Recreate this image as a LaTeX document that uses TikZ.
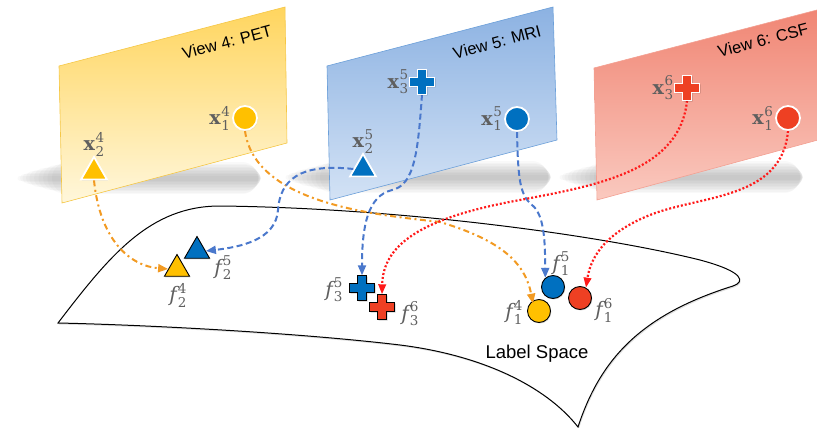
\documentclass[tikz,border=0pt]{standalone}
\usepackage{fontspec}
\setsansfont{Liberation Sans}
\newfontfamily\labfont{DejaVu Serif}
\usetikzlibrary{arrows.meta,shapes.geometric,positioning,shadows}
\definecolor{yel}{HTML}{FFC000}
\definecolor{blu}{HTML}{0070C0}
\definecolor{rd}{HTML}{EE4023}
\definecolor{orl}{HTML}{F29A22}
\definecolor{bll}{HTML}{4A78CC}
\definecolor{rdl}{HTML}{FF1A1A}
\definecolor{lblc}{HTML}{5F5F5F}
\definecolor{ytop}{HTML}{FFD55E}
\definecolor{ybot}{HTML}{FFF7DC}
\definecolor{yedge}{HTML}{F5C746}
\definecolor{btop}{HTML}{8CB2E2}
\definecolor{bbot}{HTML}{D3E2F5}
\definecolor{bedge}{HTML}{6B9FD9}
\definecolor{rtop}{HTML}{F08472}
\definecolor{rbot}{HTML}{FAC9BF}
\definecolor{redge}{HTML}{F3A092}
\newcommand{\supsz}{\fontsize{13.5}{14}\selectfont}
\newcommand{\lab}[3]{#1\kern0.6pt\rlap{\raisebox{8.5pt}{\supsz #3}}\raisebox{-5.5pt}{\supsz #2}}
\newcommand{\xl}[2]{\lab{{\fontsize{19}{22}\selectfont\bfseries x}}{#1}{#2}}
\newcommand{\fl}[2]{\lab{{\fontsize{20}{22}\selectfont\itshape f}\kern0.5pt}{#1}{#2}}
\newcommand{\plusshape}[3]{%
  \path[fill=#2, draw=#3, line width=1.1pt, line join=miter]
    ([shift={(-4.5,-12.5)}]#1.center) -- ([shift={(4.5,-12.5)}]#1.center)
    -- ([shift={(4.5,-4.5)}]#1.center) -- ([shift={(12.5,-4.5)}]#1.center)
    -- ([shift={(12.5,4.5)}]#1.center) -- ([shift={(4.5,4.5)}]#1.center)
    -- ([shift={(4.5,12.5)}]#1.center) -- ([shift={(-4.5,12.5)}]#1.center)
    -- ([shift={(-4.5,4.5)}]#1.center) -- ([shift={(-12.5,4.5)}]#1.center)
    -- ([shift={(-12.5,-4.5)}]#1.center) -- ([shift={(-4.5,-4.5)}]#1.center)
    -- cycle;}
\newcommand{\plusshadow}[1]{%
  \path[fill=black, opacity=0.18]
    ([shift={(-3.5,-11.5)}]#1.center) -- ([shift={(5.5,-11.5)}]#1.center)
    -- ([shift={(5.5,-3.5)}]#1.center) -- ([shift={(13.5,-3.5)}]#1.center)
    -- ([shift={(13.5,5.5)}]#1.center) -- ([shift={(5.5,5.5)}]#1.center)
    -- ([shift={(5.5,13.5)}]#1.center) -- ([shift={(-3.5,13.5)}]#1.center)
    -- ([shift={(-3.5,5.5)}]#1.center) -- ([shift={(-11.5,5.5)}]#1.center)
    -- ([shift={(-11.5,-3.5)}]#1.center) -- ([shift={(-3.5,-3.5)}]#1.center)
    -- cycle;}
% soft shadow band: left x, right x, y
\newcommand{\shadowband}[3]{%
  \foreach \w/\s in {32/48,29/42,26/36,23/30,20/24,17/18,14/13,11/8,8/4,5/0}{
    \draw[black, opacity=0.024, line width=\w pt, line cap=round]
      ({#1+\s},#3) -- ({#2-\s/3},#3);}}
\begin{document}
\begin{tikzpicture}[x=1pt,y=-1pt,
  lbl/.style={text=lblc, font=\labfont, inner sep=1pt},
  ttl/.style={font=\sffamily\fontsize{16.5}{19}\selectfont, rotate=15, inner sep=0pt},
  pm/.style={draw=white, line width=1.8pt, inner sep=0pt, drop shadow={opacity=0.22, shadow xshift=0.8pt, shadow yshift=-1pt}},
  sm/.style={draw=black, line width=0.9pt, inner sep=0pt, drop shadow={opacity=0.3, shadow xshift=0.8pt, shadow yshift=-1pt}},
  circ/.style={circle, minimum size=24pt},
  tri/.style={regular polygon, regular polygon sides=3, minimum size=30pt},
  pls/.style={rectangle, minimum size=25pt, inner sep=0pt},
  odash/.style={orl, line width=2pt, dash pattern=on 6pt off 3.5pt on 2pt off 3.5pt, -{Triangle[length=10pt,width=8pt]}},
  bdash/.style={bll, line width=2pt, dash pattern=on 6pt off 3.5pt, -{Triangle[length=10pt,width=8pt]}},
  rdot/.style={rdl, line width=2.2pt, dash pattern=on 2pt off 2pt, -{Triangle[length=10pt,width=7.5pt]}}
]
\useasboundingbox (0,0) rectangle (817,428);
\clip (0,0) rectangle (817,428);

% shadows below the view planes
\shadowband{20}{258}{178}
\shadowband{288}{548}{177}
\shadowband{562}{800}{177}

% label space
\path[fill=white, draw=black, line width=1pt, drop shadow={opacity=0.25, shadow xshift=1pt, shadow yshift=-1.5pt}]
  (58,323) .. controls (110,255) and (150,206) .. (220,206)
  .. controls (400,208) and (600,235) .. (700,260)
  .. controls (745,272) and (745,282) .. (733,286)
  .. controls (640,315) and (600,360) .. (578,427)
  .. controls (545,385) and (480,355) .. (400,345)
  .. controls (300,333) and (150,325) .. cycle;
\node[font=\sffamily\fontsize{18.5}{22}\selectfont] (ls) at (537,354) {Label Space};

% view planes
\path[top color=ytop, bottom color=ybot, draw=yedge, line width=0.6pt]
  (59,66) -- (285,7) -- (287,143) -- (62,203) -- cycle;
\path[top color=btop, bottom color=bbot, draw=bedge, line width=0.6pt]
  (327,66) -- (553,7) -- (557,140) -- (330,200) -- cycle;
\path[top color=rtop, bottom color=rbot, draw=redge, line width=0.6pt]
  (594,68) -- (840,4) -- (840,134) -- (597,200) -- cycle;
\node[ttl] (t4) at (227,42) {View 4: PET};
\node[ttl] (t5) at (497,42) {View 5: MRI};
\node[ttl] (t6) at (763,40) {View 6: CSF};

% markers in the views
\node[pm, circ, fill=yel] (x14) at (245,118) {};
\node[pm, tri, fill=yel] (x24) at (94,172) {};
\node[pls] (x35) at (422,82) {};
\node[pm, circ, fill=blu] (x15) at (517,119) {};
\node[pm, tri, fill=blu] (x25) at (363,169) {};
\node[pls] (x36) at (687,88) {};
\node[pm, circ, fill=rd] (x16) at (788,118) {};

% markers in label space
\node[sm, tri, fill=yel, minimum size=29pt] (f24) at (177,269) {};
\node[sm, tri, fill=blu, minimum size=29pt] (f25) at (197,251) {};
\node[pls] (f35) at (362,288) {};
\node[pls] (f36) at (382,307) {};
\node[sm, circ, fill=blu, minimum size=23pt] (f15) at (553,287) {};
\node[sm, circ, fill=yel, minimum size=23pt] (f14) at (539,311) {};
\node[sm, circ, fill=rd, minimum size=23pt] (f16) at (580,298) {};

% connectors
\draw[odash] (x24.south) .. controls (100,240) and (130,266) .. (f24.west);
\draw[odash] (x14.south) .. controls (255,205) and (380,215) .. (440,222)
  .. controls (500,240) and (525,262) .. ([yshift=-3pt]f14.120);
\draw[bdash] (x25.west) .. controls (300,163) and (280,180) .. (278,210)
  .. controls (276,240) and (240,247) .. (f25.east);
\draw[bdash] (x35.south) .. controls (418,150) and (415,185) .. (392,190)
  .. controls (368,196) and (362,225) .. (f35.north);
\draw[bdash] (x15.south) .. controls (518,180) and (520,195) .. (532,205)
  .. controls (545,215) and (545,245) .. (f15.130);
\draw[rdot] (x36.south) .. controls (680,170) and (600,185) .. (520,200)
  .. controls (420,218) and (383,245) .. (f36.north);
\draw[rdot] (x16.south) .. controls (782,200) and (700,195) .. (650,215)
  .. controls (600,235) and (590,262) .. (f16.60);

% plus markers (drawn above connectors)
\plusshadow{x35}
\plusshape{x35}{blu}{white}
\plusshadow{x36}
\plusshape{x36}{rd}{white}
\plusshadow{f35}
\plusshape{f35}{blu}{black}
\plusshadow{f36}
\plusshape{f36}{rd}{black}

% labels
\node[lbl, left=1pt of x14] (lx14) {\xl{1}{4}};
\node[lbl, above=-2pt of x24] (lx24) {\xl{2}{4}};
\node[lbl, left=0pt of x35] (lx35) {\xl{3}{5}};
\node[lbl, left=1pt of x15] (lx15) {\xl{1}{5}};
\node[lbl, above=-2pt of x25] (lx25) {\xl{2}{5}};
\node[lbl, left=0pt of x36] (lx36) {\xl{3}{6}};
\node[lbl, left=1pt of x16] (lx16) {\xl{1}{6}};
\node[lbl] (lf24) at (178,295) {\fl{2}{4}};
\node[lbl] (lf25) at (223,268) {\fl{2}{5}};
\node[lbl] (lf35) at (334,290) {\fl{3}{5}};
\node[lbl] (lf36) at (410,314) {\fl{3}{6}};
\node[lbl] (lf15) at (561,264) {\fl{1}{5}};
\node[lbl] (lf14) at (514,312) {\fl{1}{4}};
\node[lbl] (lf16) at (604,310) {\fl{1}{6}};
\end{tikzpicture}
\end{document}
